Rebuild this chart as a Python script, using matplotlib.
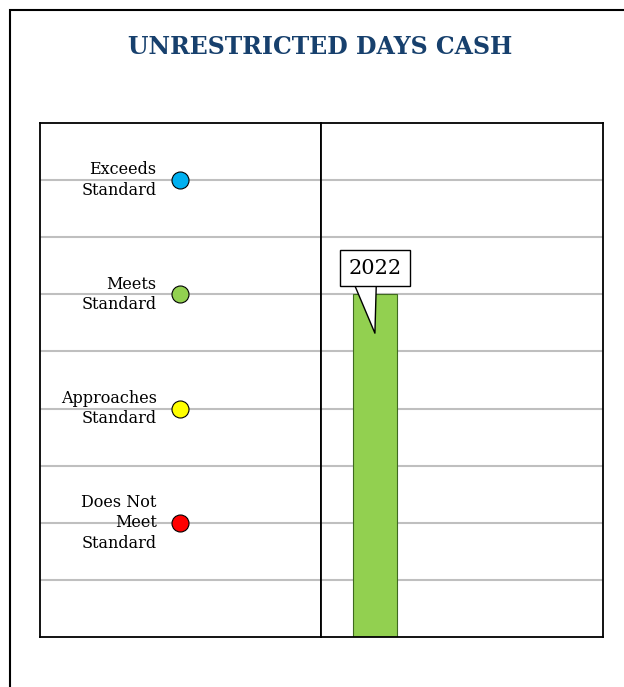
import matplotlib
matplotlib.use("Agg")
import matplotlib.pyplot as plt
from matplotlib.patches import Rectangle

# Data
levels = ["Does Not\nMeet\nStandard", "Approaches\nStandard", "Meets\nStandard", "Exceeds\nStandard"]
level_y = [2, 4, 6, 8]
level_colors = ["#FF0000", "#FFFF00", "#92D050", "#00B0F0"]
years = ["2022"]
values = [6]
bar_colors = ["#92D050"]
grid_y = [1, 2, 3, 4, 5, 6, 7, 8]

plt.rcParams['font.family'] = ['DejaVu Serif']

fig = plt.figure(figsize=(6.24, 6.87), dpi=100)

# outer border (only left and top visible)
fig.add_artist(Rectangle((10 / 624, -0.2), 1.2, 1.2 - 10 / 687, transform=fig.transFigure,
                         fill=False, ec="black", lw=1.5))

fig.text(0.513, 1 - 47 / 687, "UNRESTRICTED DAYS CASH", ha="center", va="center",
         fontsize=17, fontweight="bold", color="#17406D")

left = 40 / 624
bottom = 1 - 637 / 687
h = 514 / 687
w = 281 / 624

ax1 = fig.add_axes([left, bottom, w, h])
ax2 = fig.add_axes([left + w, bottom, 282 / 624, h])

for ax in (ax1, ax2):
    ax.set_ylim(0, 9)
    ax.set_xticks([])
    ax.set_yticks([])
    for y in grid_y:
        ax.axhline(y, color="#BFBFBF", lw=1.5, zorder=0)
    for s in ax.spines.values():
        s.set_linewidth(1.3)

# left panel: standard levels
ax1.set_xlim(0, 1)
for lab, y, c in zip(levels, level_y, level_colors):
    ax1.scatter(0.5, y, s=150, color=c, edgecolor="black", linewidth=0.8, zorder=3)
    ax1.text(0.415, y, lab, ha="right", va="center", fontsize=11.5, linespacing=1.25)

# right panel: bar
ax2.set_xlim(-0.735, 3.11)
ax2.bar(range(len(years)), values, width=0.6, color=bar_colors,
        edgecolor="#3F6A1F", linewidth=0.8, zorder=2)
for i, (yr, v) in enumerate(zip(years, values)):
    ax2.annotate(yr, xy=(i, v - 0.68), xytext=(i, v + 0.46), ha="center", va="center",
                 fontsize=15, zorder=4,
                 bbox=dict(boxstyle="square,pad=0.4", fc="white", ec="black", lw=1),
                 arrowprops=dict(arrowstyle="wedge,tail_width=1.2,shrink_factor=0.5",
                                 fc="white", ec="black", lw=1, relpos=(0.3, 0.05),
                                 shrinkA=0, shrinkB=0, patchA=None))

fig.savefig("out.png", dpi=100)
